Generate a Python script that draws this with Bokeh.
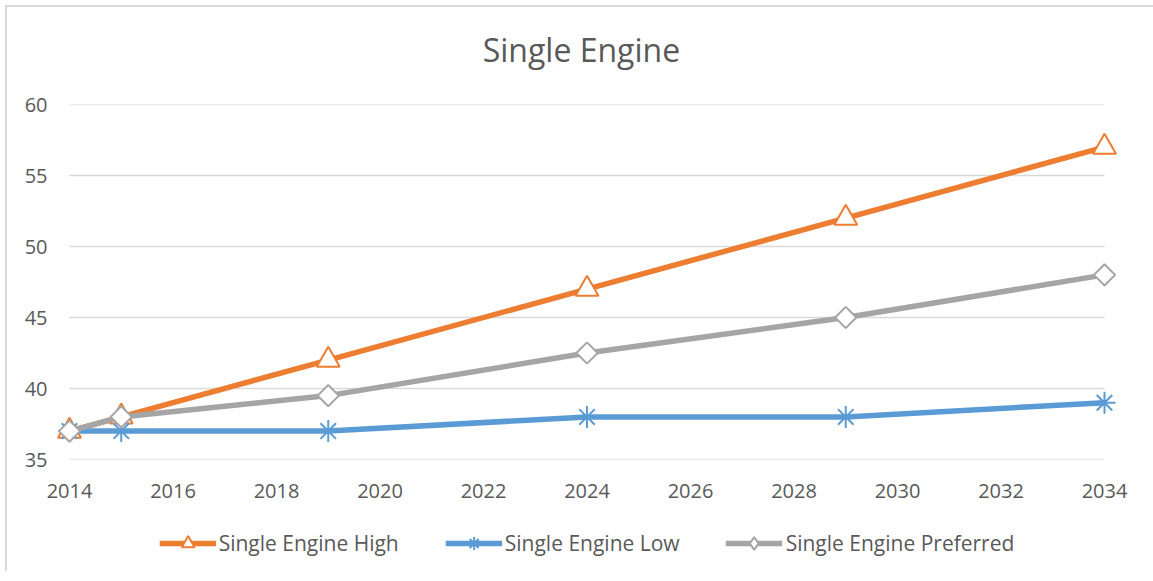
import numpy as np
from bokeh.plotting import figure
from bokeh.layouts import column
from bokeh.models import Range1d, Legend, LegendItem, FixedTicker, ColumnDataSource
from bokeh.core.properties import value
from bokeh.embed import file_html
from bokeh.resources import INLINE

years = [2014, 2015, 2019, 2024, 2029, 2034]
high = [37, 38, 42, 47, 52, 57]
low = [37, 37, 37, 38, 38, 39]
preferred = [37, 38, 39.5, 42.5, 45, 48]
x_ticks = list(range(2014, 2035, 2))
y_ticks = [35, 40, 45, 50, 55, 60]
title_text = "Single Engine"
series_names = ["Single Engine High", "Single Engine Low", "Single Engine Preferred"]

ORANGE = "#ED7D31"
BLUE = "#5B9BD5"
GRAY = "#A5A5A5"
TXT = "#595959"
FONT = "Open Sans"
W = 1146


def blank(fig):
    fig.axis.visible = False
    fig.grid.visible = False
    fig.outline_line_color = None
    fig.background_fill_color = "white"
    fig.border_fill_color = "white"


# ---- title strip ----
TH = 67
pt = figure(width=W, height=TH, output_backend="svg", toolbar_location=None,
            x_range=Range1d(0, W), y_range=Range1d(0, TH), min_border=0)
blank(pt)
pt.text(x=[567], y=[25], text=[title_text], text_font=value(FONT), text_font_size="32px",
        text_color=TXT, text_align="center", text_baseline="middle")

# ---- main chart ----
p = figure(width=W, height=441, output_backend="svg", toolbar_location=None,
           x_range=Range1d(2013.7295, 2034.2705), y_range=Range1d(35, 60),
           min_border_left=48, min_border_right=W - 1111, min_border_top=30, min_border_bottom=56)
p.outline_line_color = None
p.background_fill_color = "white"
p.border_fill_color = "white"

p.xgrid.visible = False
p.ygrid.visible = False
gsrc = ColumnDataSource(dict(x0=[min(years)] * len(y_ticks), x1=[max(years)] * len(y_ticks),
                             y=y_ticks))
p.segment(x0="x0", x1="x1", y0="y", y1="y", source=gsrc, line_color="#D9D9D9", line_width=1.3)

for ax in (p.xaxis[0], p.yaxis[0]):
    ax.axis_line_color = None
    ax.major_tick_line_color = None
    ax.minor_tick_line_color = None
    ax.major_label_text_font = FONT
    ax.major_label_text_font_size = "20px"
    ax.major_label_text_color = TXT
p.xaxis.ticker = FixedTicker(ticks=x_ticks)
p.yaxis.ticker = FixedTicker(ticks=y_ticks)
p.xaxis.major_label_standoff = 18
p.yaxis.major_label_standoff = 2

lw = 5.5
styles = [
    dict(color=ORANGE, marker="triangle", size=23, angle=0.0, fill="white", lmarker="triangle"),
    dict(color=BLUE, marker="asterisk", size=22, angle=0.0, fill="white", lmarker="asterisk"),
    dict(color=GRAY, marker="square", size=15, angle=np.pi / 4, fill="white", lmarker="diamond"),
]
series = [high, low, preferred]
for ys, st in zip(series, styles):
    p.line(years, ys, line_color=st["color"], line_width=lw)
    p.scatter(years, ys, marker=st["marker"], size=st["size"], angle=st["angle"],
              line_color=st["color"], line_width=2, fill_color=st["fill"])

# ---- legend strip (series drawn off-range; only their legend glyphs show) ----
pl = figure(width=W, height=56, output_backend="svg", toolbar_location=None,
            x_range=Range1d(0, 1), y_range=Range1d(0, 1), min_border=0, min_border_left=15)
blank(pl)
items = []
for name, ys, st in zip(series_names, series, styles):
    lr = pl.line(years, ys, line_color=st["color"], line_width=lw)
    mr = pl.scatter(years, ys, marker=st["lmarker"], size=st["size"],
                    line_color=st["color"], line_width=2, fill_color=st["fill"])
    items.append(LegendItem(label=name, renderers=[lr, mr]))
legend = Legend(items=items, orientation="horizontal", location="center")
legend.label_text_font = FONT
legend.label_text_font_size = "21px"
legend.label_text_color = TXT
legend.glyph_width = 57
legend.glyph_height = 32
legend.label_standoff = 3
legend.spacing = 46
legend.border_line_color = None
legend.background_fill_alpha = 0
legend.margin = 0
legend.padding = 8
pl.add_layout(legend)

layout = column(pt, p, pl, spacing=0)
layout.styles = {"border-top": "2px solid #D9D9D9", "border-left": "2px solid #D9D9D9",
                 "border-right": "0px", "border-bottom": "0px",
                 "margin-top": "5px", "margin-left": "5px", "overflow": "visible"}

open("out.html", "w").write(file_html(layout, INLINE))
